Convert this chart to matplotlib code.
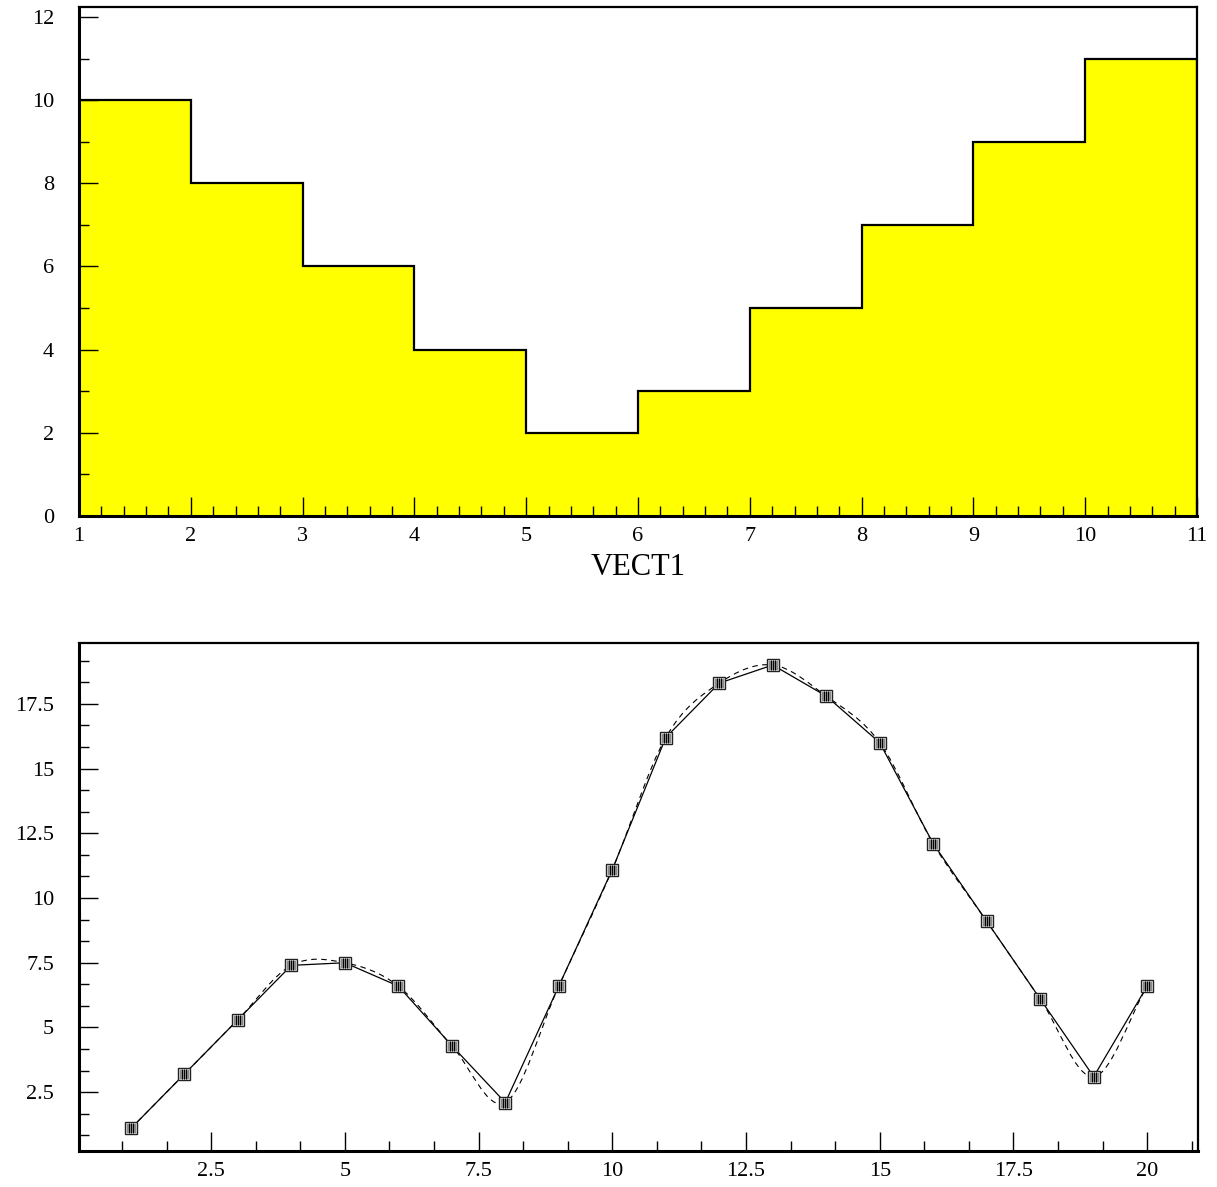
import numpy as np
import matplotlib
matplotlib.use("Agg")
import matplotlib.pyplot as plt
from matplotlib.path import Path
from matplotlib.patches import PathPatch
from matplotlib.ticker import MultipleLocator, FormatStrFormatter, FuncFormatter

plt.rcParams['font.family'] = ['Liberation Serif', 'DejaVu Serif']

# Histogram of VECT1
bin_edges = [1, 2, 3, 4, 5, 6, 7, 8, 9, 10, 11]
bin_counts = [10, 8, 6, 4, 2, 3, 5, 7, 9, 11]

# Graph points
gx = [1, 2, 3, 4, 5, 6, 7, 8, 9, 10, 11, 12, 13, 14, 15, 16, 17, 18, 19, 20]
gy = [1.1, 3.2, 5.3, 7.4, 7.5, 6.6, 4.3, 2.1, 6.6, 11.1,
      16.2, 18.3, 19.0, 17.8, 16.0, 12.1, 9.1, 6.1, 3.1, 6.6]

W, H = 1217, 1187
fig = plt.figure(figsize=(W / 100, H / 100), dpi=100)

def px_axes(left, top, right, bottom):
    return fig.add_axes([left / W, 1 - bottom / H, (right - left) / W, (bottom - top) / H])

def style_frame(ax):
    for s in ('left', 'bottom'):
        ax.spines[s].set_linewidth(2.2)
    for s in ('top', 'right'):
        ax.spines[s].set_linewidth(1.6)
    ax.tick_params(which='both', direction='in', top=False, right=False,
                   labelsize=16, width=1.0)
    ax.tick_params(which='major', length=14)
    ax.tick_params(which='minor', length=7)
    ax.tick_params(axis='x', pad=8)
    ax.tick_params(axis='y', pad=18)

# ---- top panel: filled histogram ----
ax1 = px_axes(79, 7, 1197, 516)
ax1.stairs(bin_counts, bin_edges, fill=True, color='#ffff00', zorder=1)
ax1.stairs(bin_counts, bin_edges, baseline=0, color='black', linewidth=1.6, zorder=2)
ax1.set_xlim(1, 11)
ax1.set_ylim(0, 12.24)
ax1.xaxis.set_major_locator(MultipleLocator(1))
ax1.xaxis.set_minor_locator(MultipleLocator(0.2))
ax1.yaxis.set_major_locator(MultipleLocator(2))
ax1.yaxis.set_minor_locator(MultipleLocator(1))
ax1.xaxis.set_major_formatter(FormatStrFormatter('%d'))
ax1.yaxis.set_major_formatter(FormatStrFormatter('%d'))
style_frame(ax1)
ax1.set_xlabel('VECT1', fontsize=22, labelpad=5)

# ---- bottom panel: graph with smooth curve ----
ax2 = px_axes(79, 643, 1198, 1151)

# smooth curve through the points (Catmull-Rom segments as cubic Beziers)
px = np.asarray(gx, dtype=float)
py = np.asarray(gy, dtype=float)
n = len(px)
tx = np.empty(n)
ty = np.empty(n)
tx[1:-1] = (px[2:] - px[:-2]) / 2
ty[1:-1] = (py[2:] - py[:-2]) / 2
tx[0], ty[0] = px[1] - px[0], py[1] - py[0]
tx[-1], ty[-1] = px[-1] - px[-2], py[-1] - py[-2]
verts = [(px[0], py[0])]
codes = [Path.MOVETO]
for i in range(n - 1):
    verts += [(px[i] + tx[i] / 3, py[i] + ty[i] / 3),
              (px[i + 1] - tx[i + 1] / 3, py[i + 1] - ty[i + 1] / 3),
              (px[i + 1], py[i + 1])]
    codes += [Path.CURVE4] * 3
ax2.add_patch(PathPatch(Path(verts, codes), fill=False, edgecolor='black',
                        linewidth=0.8, linestyle=(0, (5, 4)), zorder=2))

ax2.plot(gx, gy, color='black', linewidth=0.9, zorder=3)

# hatched square markers
bars = Path([(-0.5, -1), (-0.5, 1), (0, -1), (0, 1), (0.5, -1), (0.5, 1)],
            [Path.MOVETO, Path.LINETO] * 3)
ax2.plot(gx, gy, linestyle='none', marker='s', markersize=9,
         markerfacecolor='#777777', markeredgecolor='#222222', markeredgewidth=1.0, zorder=4)
ax2.plot(gx, gy, linestyle='none', marker='s', markersize=7,
         markerfacecolor='#888888', markeredgecolor='#dddddd', markeredgewidth=0.5, zorder=5)
ax2.plot(gx, gy, linestyle='none', marker=bars, markersize=7,
         markeredgecolor='black', markeredgewidth=0.7, zorder=6)

ax2.set_xlim(0.03, 20.95)
ax2.set_ylim(0.23, 19.85)
ax2.xaxis.set_major_locator(MultipleLocator(2.5))
ax2.xaxis.set_minor_locator(MultipleLocator(2.5 / 3))
ax2.yaxis.set_major_locator(MultipleLocator(2.5))
ax2.yaxis.set_minor_locator(MultipleLocator(2.5 / 3))
fmt = FuncFormatter(lambda v, p: '%g' % v)
ax2.xaxis.set_major_formatter(fmt)
ax2.yaxis.set_major_formatter(fmt)
style_frame(ax2)

fig.savefig('out.png', dpi=100)
